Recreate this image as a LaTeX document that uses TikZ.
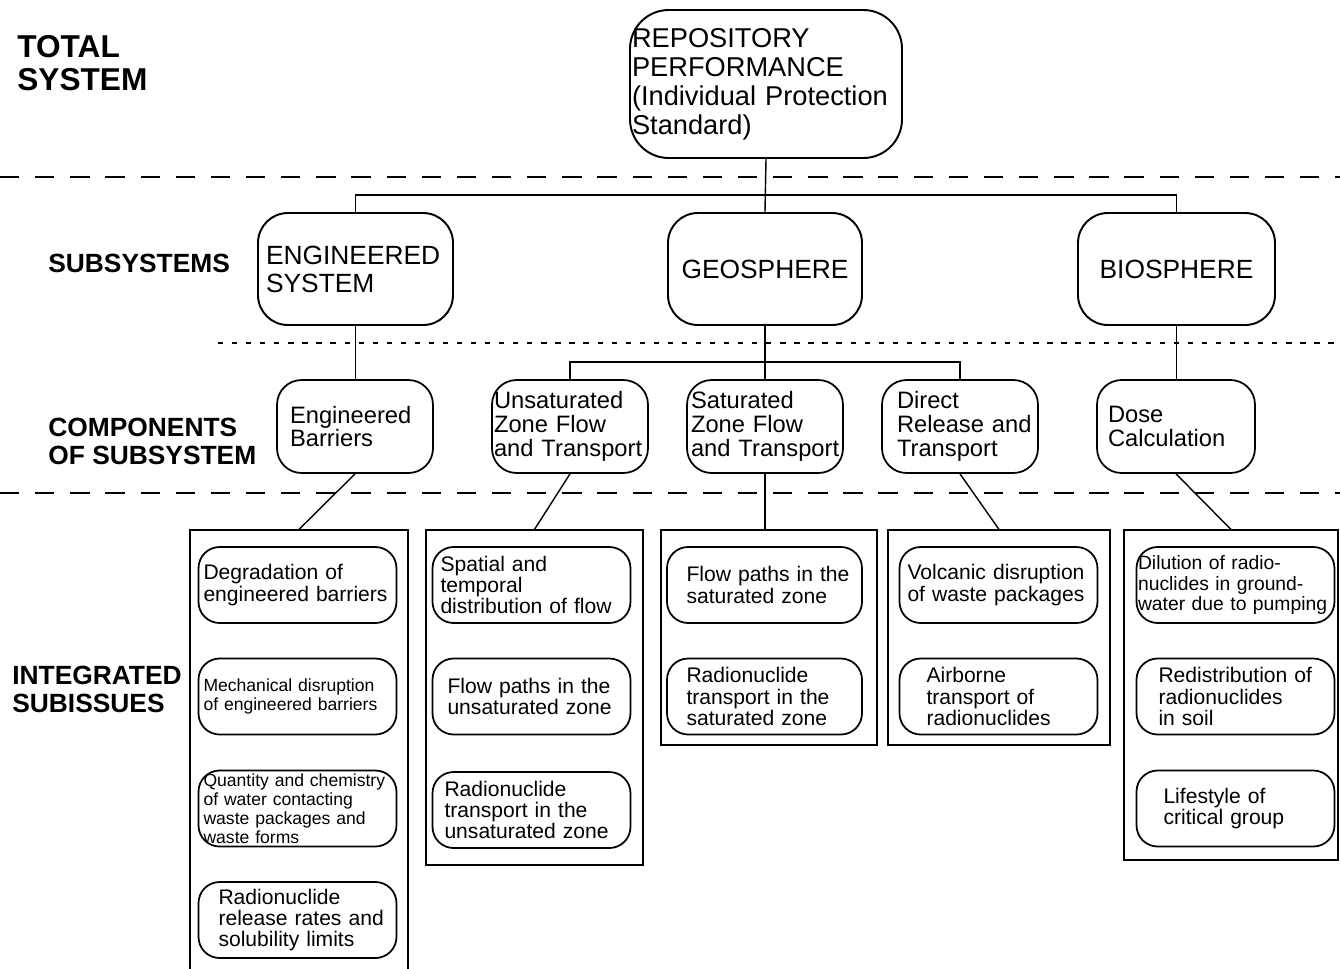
\documentclass[tikz,border=0pt]{standalone}
\usepackage{fontspec}
\setmainfont{Liberation Sans}
\usepackage{tikz}
\usetikzlibrary{calc}
\hyphenpenalty=10000
\exhyphenpenalty=10000

\tikzset{
    lbl/.style={font=\bfseries\fontsize{15}{16}\selectfont, align=left, inner sep=0pt, anchor=west},
    topbox/.style={draw, line width=1.1pt, rounded corners=22pt, inner sep=0pt, align=left,
        font=\fontsize{15.5}{16.5}\selectfont},
    subbox/.style={draw, line width=1.1pt, rounded corners=17pt, inner sep=0pt,
        font=\fontsize{15}{16}\selectfont, minimum height=2.24cm},
    compbox/.style={draw, line width=1pt, rounded corners=14pt, inner sep=0pt, align=left,
        font=\fontsize{13.5}{13.5}\selectfont, minimum width=3.12cm, minimum height=1.86cm},
    issue/.style={draw, line width=1pt, rounded corners=12pt, inner sep=0pt, align=left,
        font=\fontsize{12}{12.2}\selectfont, minimum width=3.96cm, minimum height=1.52cm},
    grp/.style={draw, line width=0.7pt, inner sep=0pt},
    link/.style={line width=0.8pt},
    sep/.style={line width=1pt, dash pattern=on 11pt off 9pt},
}

\begin{document}
\begin{tikzpicture}[x=0.02cm, y=-0.02cm]
    \useasboundingbox (0,0) rectangle (1340,968);
    \clip (0,0) rectangle (1340,968);

    % Level labels
    \node[lbl, font=\bfseries\fontsize{18}{19}\selectfont] (ltotal) at (17,63) {TOTAL\\SYSTEM};
    \node[lbl] (lsub) at (48,263) {SUBSYSTEMS};
    \node[lbl] (lcomp) at (48,441) {COMPONENTS\\OF SUBSYSTEM};
    \node[lbl] (lint) at (12,689) {INTEGRATED\\SUBISSUES};

    % Separators
    \draw[sep] (0,177) -- (1340,177);
    \draw[line width=1pt, dash pattern=on 3pt off 5pt] (218,343) -- (1340,343);
    \draw[sep] (0,493) -- (1340,493);

    % Total system
    \node[topbox, minimum width=5.44cm, minimum height=2.96cm, text width=5.36cm] (top) at (766,84)
        {REPOSITORY\\PERFORMANCE\\(Individual~Protection\\Standard)};

    % Subsystems
    \node[subbox, minimum width=3.9cm, text width=3.58cm, align=left] (eng) at (355.5,269) {ENGINEERED\\SYSTEM};
    \node[subbox, minimum width=3.88cm] (geo) at (765,269) {GEOSPHERE};
    \node[subbox, minimum width=3.94cm] (bio) at (1176.5,269) {BIOSPHERE};

    \coordinate (j1) at (766,195);
    \draw[link] (top.south) -- (geo.north);
    \draw[link] (eng.north) -- (eng.north |- j1) -| (bio.north);

    % Components of subsystem
    \node[compbox, text width=2.6cm] (barr) at (355,426.5) {Engineered\\Barriers};
    \node[compbox, text width=3.04cm] (unsat) at (570,426.5) {Unsaturated\\Zone~Flow\\and~Transport};
    \node[compbox, text width=2.96cm] (sat) at (765,426.5) {Saturated\\Zone~Flow\\and~Transport};
    \node[compbox, text width=2.52cm] (direct) at (960,426.5) {Direct\\Release~and\\Transport};
    \node[compbox, minimum width=3.16cm, text width=2.72cm] (dose) at (1176,426.5) {Dose\\Calculation};

    \coordinate (j2) at (765,362);
    \draw[link] (eng.south) -- (eng.south |- barr.north);
    \draw[link] (geo.south) -- (sat.north);
    \draw[link] (unsat.north) |- (j2) -| (direct.north);
    \draw[link] (bio.south) -- (bio.south |- dose.north);

    % Integrated subissue groups
    \node[grp, minimum width=4.36cm, minimum height=9cm] (g1) at (299,755) {};
    \node[grp, minimum width=4.34cm, minimum height=6.7cm] (g2) at (534.5,697.5) {};
    \node[grp, minimum width=4.32cm, minimum height=4.3cm] (g3) at (769,637.5) {};
    \node[grp, minimum width=4.44cm, minimum height=4.3cm] (g4) at (999,637.5) {};
    \node[grp, minimum width=4.28cm, minimum height=6.6cm] (g5) at (1231,695) {};

    \draw[link] (barr.south) -- (g1.north);
    \draw[link] (unsat.south) -- (g2.north);
    \draw[link] (sat.south) -- (sat.south |- g3.north);
    \draw[link] (direct.south) -- (g4.north);
    \draw[link] (dose.south) -- (g5.north);

    % Group 1: engineered barriers
    \node[issue, text width=3.76cm] (i11) at (297.5,585) {Degradation~of\\engineered~barriers};
    \node[issue, text width=3.76cm, font=\fontsize{10}{10.8}\selectfont] (i12) at (297.5,696.5)
        {Mechanical~disruption\\of~engineered~barriers};
    \node[issue, text width=3.76cm, font=\fontsize{10}{10.8}\selectfont] (i13) at (297.5,808.5)
        {Quantity~and~chemistry\\of~water~contacting\\waste~packages~and\\waste~forms};
    \node[issue, text width=3.16cm] (i14) at (297.5,920) {Radionuclide\\release~rates~and\\solubility~limits};

    % Group 2: unsaturated zone
    \node[issue, text width=3.64cm] (i21) at (531.5,585) {Spatial~and\\temporal\\distribution~of~flow};
    \node[issue, text width=3.36cm] (i22) at (531.5,696.5) {Flow~paths~in~the\\unsaturated~zone};
    \node[issue, text width=3.48cm] (i23) at (531.5,810) {Radionuclide\\transport~in~the\\unsaturated~zone};

    % Group 3: saturated zone
    \node[issue, minimum width=3.9cm, text width=3.12cm] (i31) at (764.5,585) {Flow~paths~in~the\\saturated~zone};
    \node[issue, minimum width=3.9cm, text width=3.12cm] (i32) at (764.5,696.5)
        {Radionuclide\\transport~in~the\\saturated~zone};

    % Group 4: direct release
    \node[issue, text width=3.64cm] (i41) at (998.5,585) {Volcanic~disruption\\of~waste~packages};
    \node[issue, text width=2.88cm] (i42) at (998.5,696.5) {Airborne\\transport~of\\radionuclides};

    % Group 5: dose calculation
    \node[issue, text width=3.9cm, font=\fontsize{11}{11.6}\selectfont] (i51) at (1235.5,585)
        {Dilution~of~radio-\\nuclides~in~ground-\\water~due~to~pumping};
    \node[issue, text width=3.08cm] (i52) at (1235.5,696.5) {Redistribution~of\\radionuclides\\in~soil};
    \node[issue, text width=2.88cm] (i53) at (1235.5,808.5) {Lifestyle~of\\critical~group};
\end{tikzpicture}
\end{document}
